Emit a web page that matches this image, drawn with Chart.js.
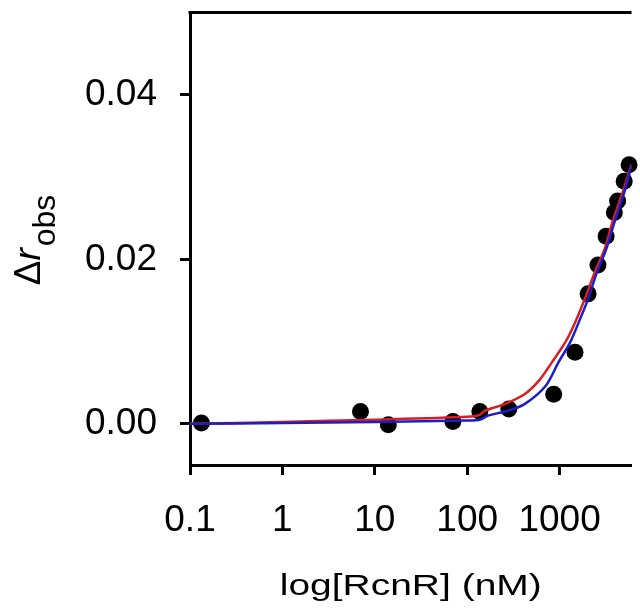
<!DOCTYPE html>
<html>
<head>
<meta charset="utf-8">
<script src="https://cdn.jsdelivr.net/npm/chart.js@4.4.1/dist/chart.umd.min.js"></script>
<style>
  html, body { margin: 0; padding: 0; background: #ffffff; overflow: hidden; }
  #wrap { width: 640px; height: 611px; position: relative; }
</style>
</head>
<body>
<div id="wrap"><canvas id="c" width="640" height="611"></canvas></div>
<script>
// Data
const pointX = [0.133, 7, 14, 70, 137, 282, 863, 1468, 2034, 2601, 3186, 3915, 4245, 5001, 5649];
const pointY = [0.0001, 0.0015, -0.0001, 0.0003, 0.0015, 0.0018, 0.0036, 0.0087, 0.0158, 0.0193, 0.0228, 0.0257, 0.0271, 0.0295, 0.0315];

const redFitX = [0.1, 1, 10, 100, 137, 156, 254, 417, 598, 828, 1150, 1469, 1877, 2398, 3062, 3750, 4797, 6000];
const redFitY = [0, 0.00024, 0.0005, 0.00085, 0.0011, 0.0016, 0.0024, 0.0036, 0.00525, 0.0075, 0.0099, 0.0123, 0.0152, 0.0184, 0.0212, 0.0246, 0.0281, 0.0315];

const blueFitX = [0.1, 1, 10, 100, 137, 168, 275, 417, 705, 975, 1300, 1660, 2036, 2496, 3187, 3950, 5000, 6000];
const blueFitY = [0, 0.0001, 0.00024, 0.0004, 0.0005, 0.001, 0.0016, 0.0024, 0.0046, 0.0075, 0.0099, 0.0127, 0.0152, 0.0182, 0.0212, 0.0246, 0.0281, 0.0314];

const xTicks = [0.1, 1, 10, 100, 1000];
const yTicks = [0, 0.02, 0.04];
const xTitleText = 'log[RcnR] (nM)';

const toXY = (xs, ys) => xs.map((x, i) => ({ x: x, y: ys[i] }));

const FONT = "'Liberation Sans', Arial, Helvetica, sans-serif";

const frameAndTitles = {
  id: 'frameAndTitles',
  beforeDatasetsDraw(chart) {
    const a = chart.chartArea, ctx = chart.ctx;
    ctx.save();
    ctx.strokeStyle = '#000';
    ctx.lineWidth = 3;
    ctx.beginPath();
    ctx.moveTo(a.left - 1.5, a.top);
    ctx.lineTo(a.right, a.top);
    ctx.stroke();
    ctx.restore();
  },
  afterDraw(chart) {
    const ctx = chart.ctx, a = chart.chartArea;
    // y-axis title: Δr with subscript "obs"
    ctx.save();
    ctx.fillStyle = '#000';
    ctx.textBaseline = 'alphabetic';
    ctx.textAlign = 'left';
    const fMain = '37px ' + FONT;
    const fItal = 'italic 37px ' + FONT;
    const fSub = '32px ' + FONT;
    ctx.font = fMain; const w1 = ctx.measureText('\u0394').width;
    ctx.font = fItal; const w2 = ctx.measureText('r').width + 2;
    ctx.font = fSub; const w3 = ctx.measureText('obs').width;
    const total = w1 + w2 + w3;
    ctx.translate(40, 240);
    ctx.rotate(-Math.PI / 2);
    let x = -total / 2;
    ctx.font = fMain; ctx.fillText('\u0394', x, 0); x += w1;
    ctx.font = fItal; ctx.fillText('r', x, 0); x += w2;
    ctx.font = fSub; ctx.fillText('obs', x, 15);
    ctx.restore();

    // x-axis title (wide lettering as in the reference)
    ctx.save();
    ctx.fillStyle = '#000';
    ctx.font = '30px ' + FONT;
    ctx.textBaseline = 'alphabetic';
    ctx.textAlign = 'center';
    const tw = ctx.measureText(xTitleText).width;
    const sx = 262 / tw;
    ctx.translate((a.left + a.right) / 2, 595);
    ctx.scale(sx, 1);
    ctx.fillText(xTitleText, 0, 0);
    ctx.restore();
  }
};

new Chart(document.getElementById('c'), {
  type: 'scatter',
  data: {
    datasets: [
      {
        label: 'blue fit',
        type: 'line',
        data: toXY(blueFitX, blueFitY),
        borderColor: 'rgb(25,30,200)',
        borderWidth: 2.5,
        pointRadius: 0,
        fill: false,
        tension: 0.3,
        order: 1
      },
      {
        label: 'red fit',
        type: 'line',
        data: toXY(redFitX, redFitY),
        borderColor: 'rgb(215,30,35)',
        borderWidth: 2.5,
        pointRadius: 0,
        fill: false,
        tension: 0.3,
        order: 2
      },
      {
        label: 'data',
        data: toXY(pointX, pointY),
        backgroundColor: '#000',
        borderColor: '#000',
        borderWidth: 0,
        pointRadius: 8.5,
        clip: false,
        order: 3
      }
    ]
  },
  options: {
    responsive: false,
    animation: false,
    devicePixelRatio: 1,
    layout: { padding: { top: 12.5, right: 0, bottom: 0, left: 0 } },
    plugins: { legend: { display: false }, tooltip: { enabled: false } },
    scales: {
      x: {
        type: 'logarithmic',
        min: 0.1,
        max: 6000,
        afterBuildTicks(scale) { scale.ticks = xTicks.map(v => ({ value: v })); },
        afterFit(scale) { scale.height = 146; scale.paddingLeft = 0; scale.paddingRight = 0; },
        ticks: {
          autoSkip: false,
          maxRotation: 0,
          color: '#000',
          padding: 24,
          font: { family: FONT, size: 37 },
          callback: (v) => String(v)
        },
        grid: { drawOnChartArea: false, drawTicks: true, tickLength: 10, tickWidth: 3, tickColor: '#000' },
        border: { display: true, color: '#000', width: 3 }
      },
      y: {
        type: 'linear',
        min: -0.005,
        max: 0.05,
        afterBuildTicks(scale) { scale.ticks = yTicks.map(v => ({ value: v })); },
        afterFit(scale) { scale.width = 190; scale.paddingTop = 0; scale.paddingBottom = 0; },
        ticks: {
          color: '#000',
          padding: 23,
          font: { family: FONT, size: 37 },
          callback: (v) => Number(v).toFixed(2)
        },
        grid: { drawOnChartArea: false, drawTicks: true, tickLength: 10, tickWidth: 3, tickColor: '#000' },
        border: { display: true, color: '#000', width: 3 }
      }
    }
  },
  plugins: [frameAndTitles]
});
</script>
</body>
</html>
